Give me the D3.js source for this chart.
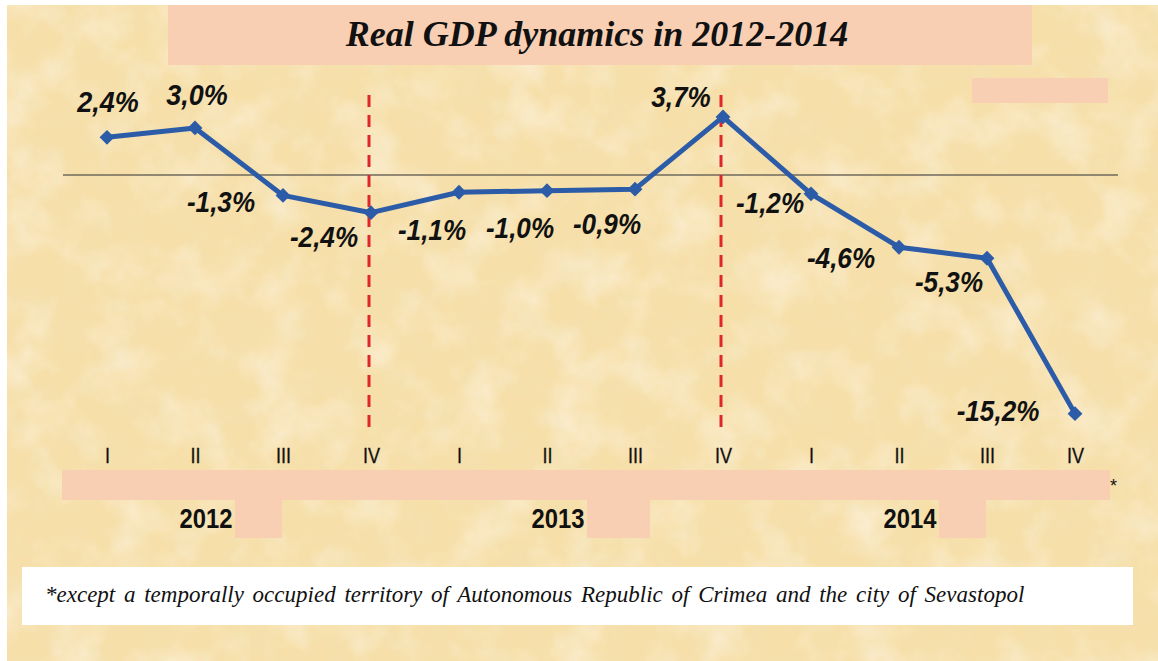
<!DOCTYPE html>
<html>
<head>
<meta charset="utf-8">
<script src="https://cdn.jsdelivr.net/npm/d3@7"></script>
<style>
  html, body { margin: 0; padding: 0; background: #fff; }
  svg { display: block; }
</style>
</head>
<body>
<script>
// chart data
const years = ["2012", "2013", "2014"];
const quarters = ["I", "II", "III", "IV"];
const gdpGrowth = [2.4, 3.0, -1.3, -2.4, -1.1, -1.0, -0.9, 3.7, -1.2, -4.6, -5.3, -15.2];
const breakQuarters = [3, 7]; // index of the red dashed lines
const title = "Real GDP dynamics in 2012-2014";
const footnote = "*except a temporally occupied territory of Autonomous Republic of Crimea and the city of Sevastopol";

// where each value label sits relative to its point
const labelOffsets = [[1, -25], [2, -23], [-62, 17], [-47, 34], [-27, 48], [-27, 47],
  [-28, 45], [-42, -10], [-41, 19], [-58, 21], [-38, 34], [-77, 7]];

var width = 1158, height = 661;

var svg = d3.select("body").append("svg")
  .attr("width", width)
  .attr("height", height);

// paper texture
var defs = svg.append("defs");
var f1 = defs.append("filter").attr("id", "light").attr("x", 0).attr("y", 0).attr("width", "100%").attr("height", "100%");
f1.append("feTurbulence").attr("type", "fractalNoise").attr("baseFrequency", "0.02").attr("numOctaves", 4).attr("seed", 7);
f1.append("feColorMatrix").attr("type", "matrix")
  .attr("values", "0 0 0 0 1  0 0 0 0 0.95  0 0 0 0 0.88  1.1 0 0 0 -0.5");
var f2 = defs.append("filter").attr("id", "dark").attr("x", 0).attr("y", 0).attr("width", "100%").attr("height", "100%");
f2.append("feTurbulence").attr("type", "fractalNoise").attr("baseFrequency", "0.035").attr("numOctaves", 4).attr("seed", 21);
f2.append("feColorMatrix").attr("type", "matrix")
  .attr("values", "0 0 0 0 0.9  0 0 0 0 0.76  0 0 0 0 0.45  0 1.4 0 0 -0.58");

svg.append("rect").attr("x", 7).attr("y", 5).attr("width", width - 7).attr("height", height - 5).attr("fill", "#f6dfa9");
svg.append("rect").attr("x", 7).attr("y", 5).attr("width", width - 7).attr("height", height - 5).attr("filter", "url(#dark)");
svg.append("rect").attr("x", 7).attr("y", 5).attr("width", width - 7).attr("height", height - 5).attr("filter", "url(#light)");

var pink = "#f9cfb4";

// decorative pink panels
svg.append("rect").attr("x", 168).attr("y", 5).attr("width", 864).attr("height", 60).attr("fill", pink);
svg.append("rect").attr("x", 972).attr("y", 78).attr("width", 136).attr("height", 25).attr("fill", pink);
svg.append("rect").attr("x", 62).attr("y", 470).attr("width", 1048).attr("height", 30).attr("fill", pink);

// title
svg.append("text")
  .attr("x", 597).attr("y", 46)
  .attr("text-anchor", "middle")
  .attr("font-family", "'Liberation Serif', 'Times New Roman', serif")
  .attr("font-weight", "bold").attr("font-style", "italic")
  .attr("font-size", 36)
  .attr("fill", "#111")
  .text(title);

// scales
var keys = [];
years.forEach(function(y) { quarters.forEach(function(q) { keys.push(y + "-" + q); }); });
var data = gdpGrowth.map(function(v, i) { return { key: keys[i], year: years[Math.floor(i / 4)], q: quarters[i % 4], v: v }; });

var xScale = d3.scalePoint().domain(keys).range([107, 1075]);
var yScale = d3.scaleLinear().domain([-16, 4]).range([426.2, 112.2]);

// zero line
svg.append("line")
  .attr("x1", 63).attr("x2", 1118)
  .attr("y1", yScale(0)).attr("y2", yScale(0))
  .attr("stroke", "#6f6a5c").attr("stroke-width", 1.5);

// red dashed separators
svg.selectAll(".sep")
  .data(breakQuarters)
  .enter().append("line")
  .attr("class", "sep")
  .attr("x1", function(i) { return xScale(keys[i]) - 2; })
  .attr("x2", function(i) { return xScale(keys[i]) - 2; })
  .attr("y1", 95).attr("y2", 432)
  .attr("stroke", "#e0262b").attr("stroke-width", 3)
  .attr("stroke-dasharray", "12,8");

// line
var line = d3.line()
  .x(function(d) { return xScale(d.key); })
  .y(function(d) { return yScale(d.v); });

svg.append("path")
  .datum(data)
  .attr("d", line)
  .attr("fill", "none")
  .attr("stroke", "#2c5ba7")
  .attr("stroke-width", 5)
  .attr("stroke-linejoin", "round");

// diamond markers
svg.selectAll(".dot")
  .data(data)
  .enter().append("path")
  .attr("class", "dot")
  .attr("d", d3.symbol().type(d3.symbolSquare).size(110))
  .attr("transform", function(d) { return "translate(" + xScale(d.key) + "," + yScale(d.v) + ") rotate(45)"; })
  .attr("fill", "#2c5ba7");

// value labels, comma decimal and plain hyphen minus
var fmt = d3.formatLocale({ decimal: ",", thousands: " ", grouping: [3], currency: ["", ""], minus: "-" }).format(".1f");

svg.selectAll(".lbl")
  .data(data)
  .enter().append("text")
  .attr("class", "lbl")
  .attr("transform", function(d, i) {
    return "translate(" + (xScale(d.key) + labelOffsets[i][0]) + "," + (yScale(d.v) + labelOffsets[i][1]) + ") scale(0.9,1)";
  })
  .attr("text-anchor", "middle")
  .attr("font-family", "'Liberation Sans', Arial, sans-serif")
  .attr("font-weight", "bold").attr("font-style", "italic")
  .attr("font-size", function(d, i) { return i < 2 ? 30 : 29; })
  .attr("fill", "#111")
  .text(function(d) { return fmt(d.v) + "%"; });

// quarter axis
var axis = svg.append("g")
  .attr("transform", "translate(0,447)")
  .call(d3.axisBottom(xScale).tickSize(0).tickFormat(function(k) { return k.split("-")[1]; }));
axis.select(".domain").remove();
axis.selectAll(".tick text")
  .attr("y", 0).attr("dy", "0.71em")
  .attr("transform", "scale(0.82,1)")
  .attr("font-family", "'Liberation Sans', Arial, sans-serif")
  .attr("font-size", 22)
  .attr("stroke", "#111").attr("stroke-width", 0.3)
  .attr("fill", "#111");

svg.append("text")
  .attr("x", 1110).attr("y", 492)
  .attr("font-family", "'Liberation Sans', Arial, sans-serif")
  .attr("font-size", 18)
  .attr("fill", "#111")
  .text("*");

// year row
years.forEach(function(y, j) {
  var cx = (xScale(y + "-I") + xScale(y + "-IV")) / 2;
  var w = j === 1 ? 63 : 47;
  svg.append("rect")
    .attr("x", cx - 4).attr("y", 500)
    .attr("width", w).attr("height", 38)
    .attr("fill", pink);
  svg.append("text")
    .attr("transform", "translate(" + (cx - 33) + ",528) scale(0.85,1)")
    .attr("text-anchor", "middle")
    .attr("font-family", "'Liberation Sans', Arial, sans-serif")
    .attr("font-weight", "bold")
    .attr("font-size", 28)
    .attr("fill", "#111")
    .text(y);
});

// footnote
svg.append("rect")
  .attr("x", 22).attr("y", 567)
  .attr("width", 1111).attr("height", 58)
  .attr("fill", "#fff");
svg.append("text")
  .attr("x", 45).attr("y", 602)
  .attr("font-family", "'Liberation Serif', 'Times New Roman', serif")
  .attr("font-style", "italic")
  .attr("font-size", 23)
  .attr("word-spacing", 3)
  .attr("fill", "#111")
  .text(footnote);
</script>
</body>
</html>
